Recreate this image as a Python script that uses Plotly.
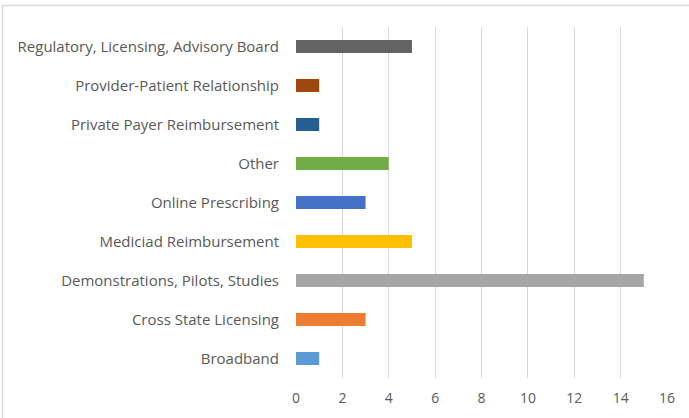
import plotly.graph_objects as go

categories = ["Broadband", "Cross State Licensing", "Demonstrations, Pilots, Studies",
              "Mediciad Reimbursement", "Online Prescribing", "Other",
              "Private Payer Reimbursement", "Provider-Patient Relationship",
              "Regulatory, Licensing, Advisory Board"]
values = [1, 3, 15, 5, 3, 4, 1, 1, 5]
colors = ["#5B9BD5", "#ED7D31", "#A5A5A5", "#FFC000", "#4472C4", "#70AD47",
          "#255E91", "#9E480E", "#636363"]
x_ticks = [0, 2, 4, 6, 8, 10, 12, 14, 16]

W, H = 689, 418
L, R, T, B = 296, 22, 27, 40
pw, ph = W - L - R, H - T - B

fig = go.Figure(go.Bar(
    y=categories, x=values, orientation="h",
    marker=dict(color=colors, line=dict(width=0)),
))

def px_to_paper_x(p):
    return (p - L) / pw

def px_to_paper_y(p):
    return (H - B - p) / ph

# chart frame: top and left edges only visible
fig.add_shape(type="line", xref="paper", yref="paper",
              x0=px_to_paper_x(3), x1=px_to_paper_x(690),
              y0=px_to_paper_y(5.5), y1=px_to_paper_y(5.5),
              line=dict(color="#D9D9D9", width=1.5), layer="below")
fig.add_shape(type="line", xref="paper", yref="paper",
              x0=px_to_paper_x(2.5), x1=px_to_paper_x(2.5),
              y0=px_to_paper_y(5), y1=px_to_paper_y(420),
              line=dict(color="#D9D9D9", width=1.5), layer="below")

fig.update_layout(
    width=W, height=H,
    margin=dict(l=L, r=R, t=T, b=B),
    paper_bgcolor="white", plot_bgcolor="white",
    bargap=0.667,
    showlegend=False,
    font=dict(family="Open Sans", size=15, color="#595959"),
    xaxis=dict(range=[0, 16], tickvals=x_ticks, showgrid=True, gridcolor="#D9D9D9",
               gridwidth=1, zeroline=False, showline=False, ticks="",
               ticklabelstandoff=10,
               tickfont=dict(size=14, color="#595959"), fixedrange=True),
    yaxis=dict(categoryorder="array", categoryarray=categories, showgrid=False,
               zeroline=False, showline=False, ticks="", ticklabelstandoff=16,
               tickfont=dict(size=15, color="#595959"), fixedrange=True),
)

fig.write_html("out.html", config={"displayModeBar": False},
               post_script="document.body.style.margin='0';document.body.style.padding='0';")
